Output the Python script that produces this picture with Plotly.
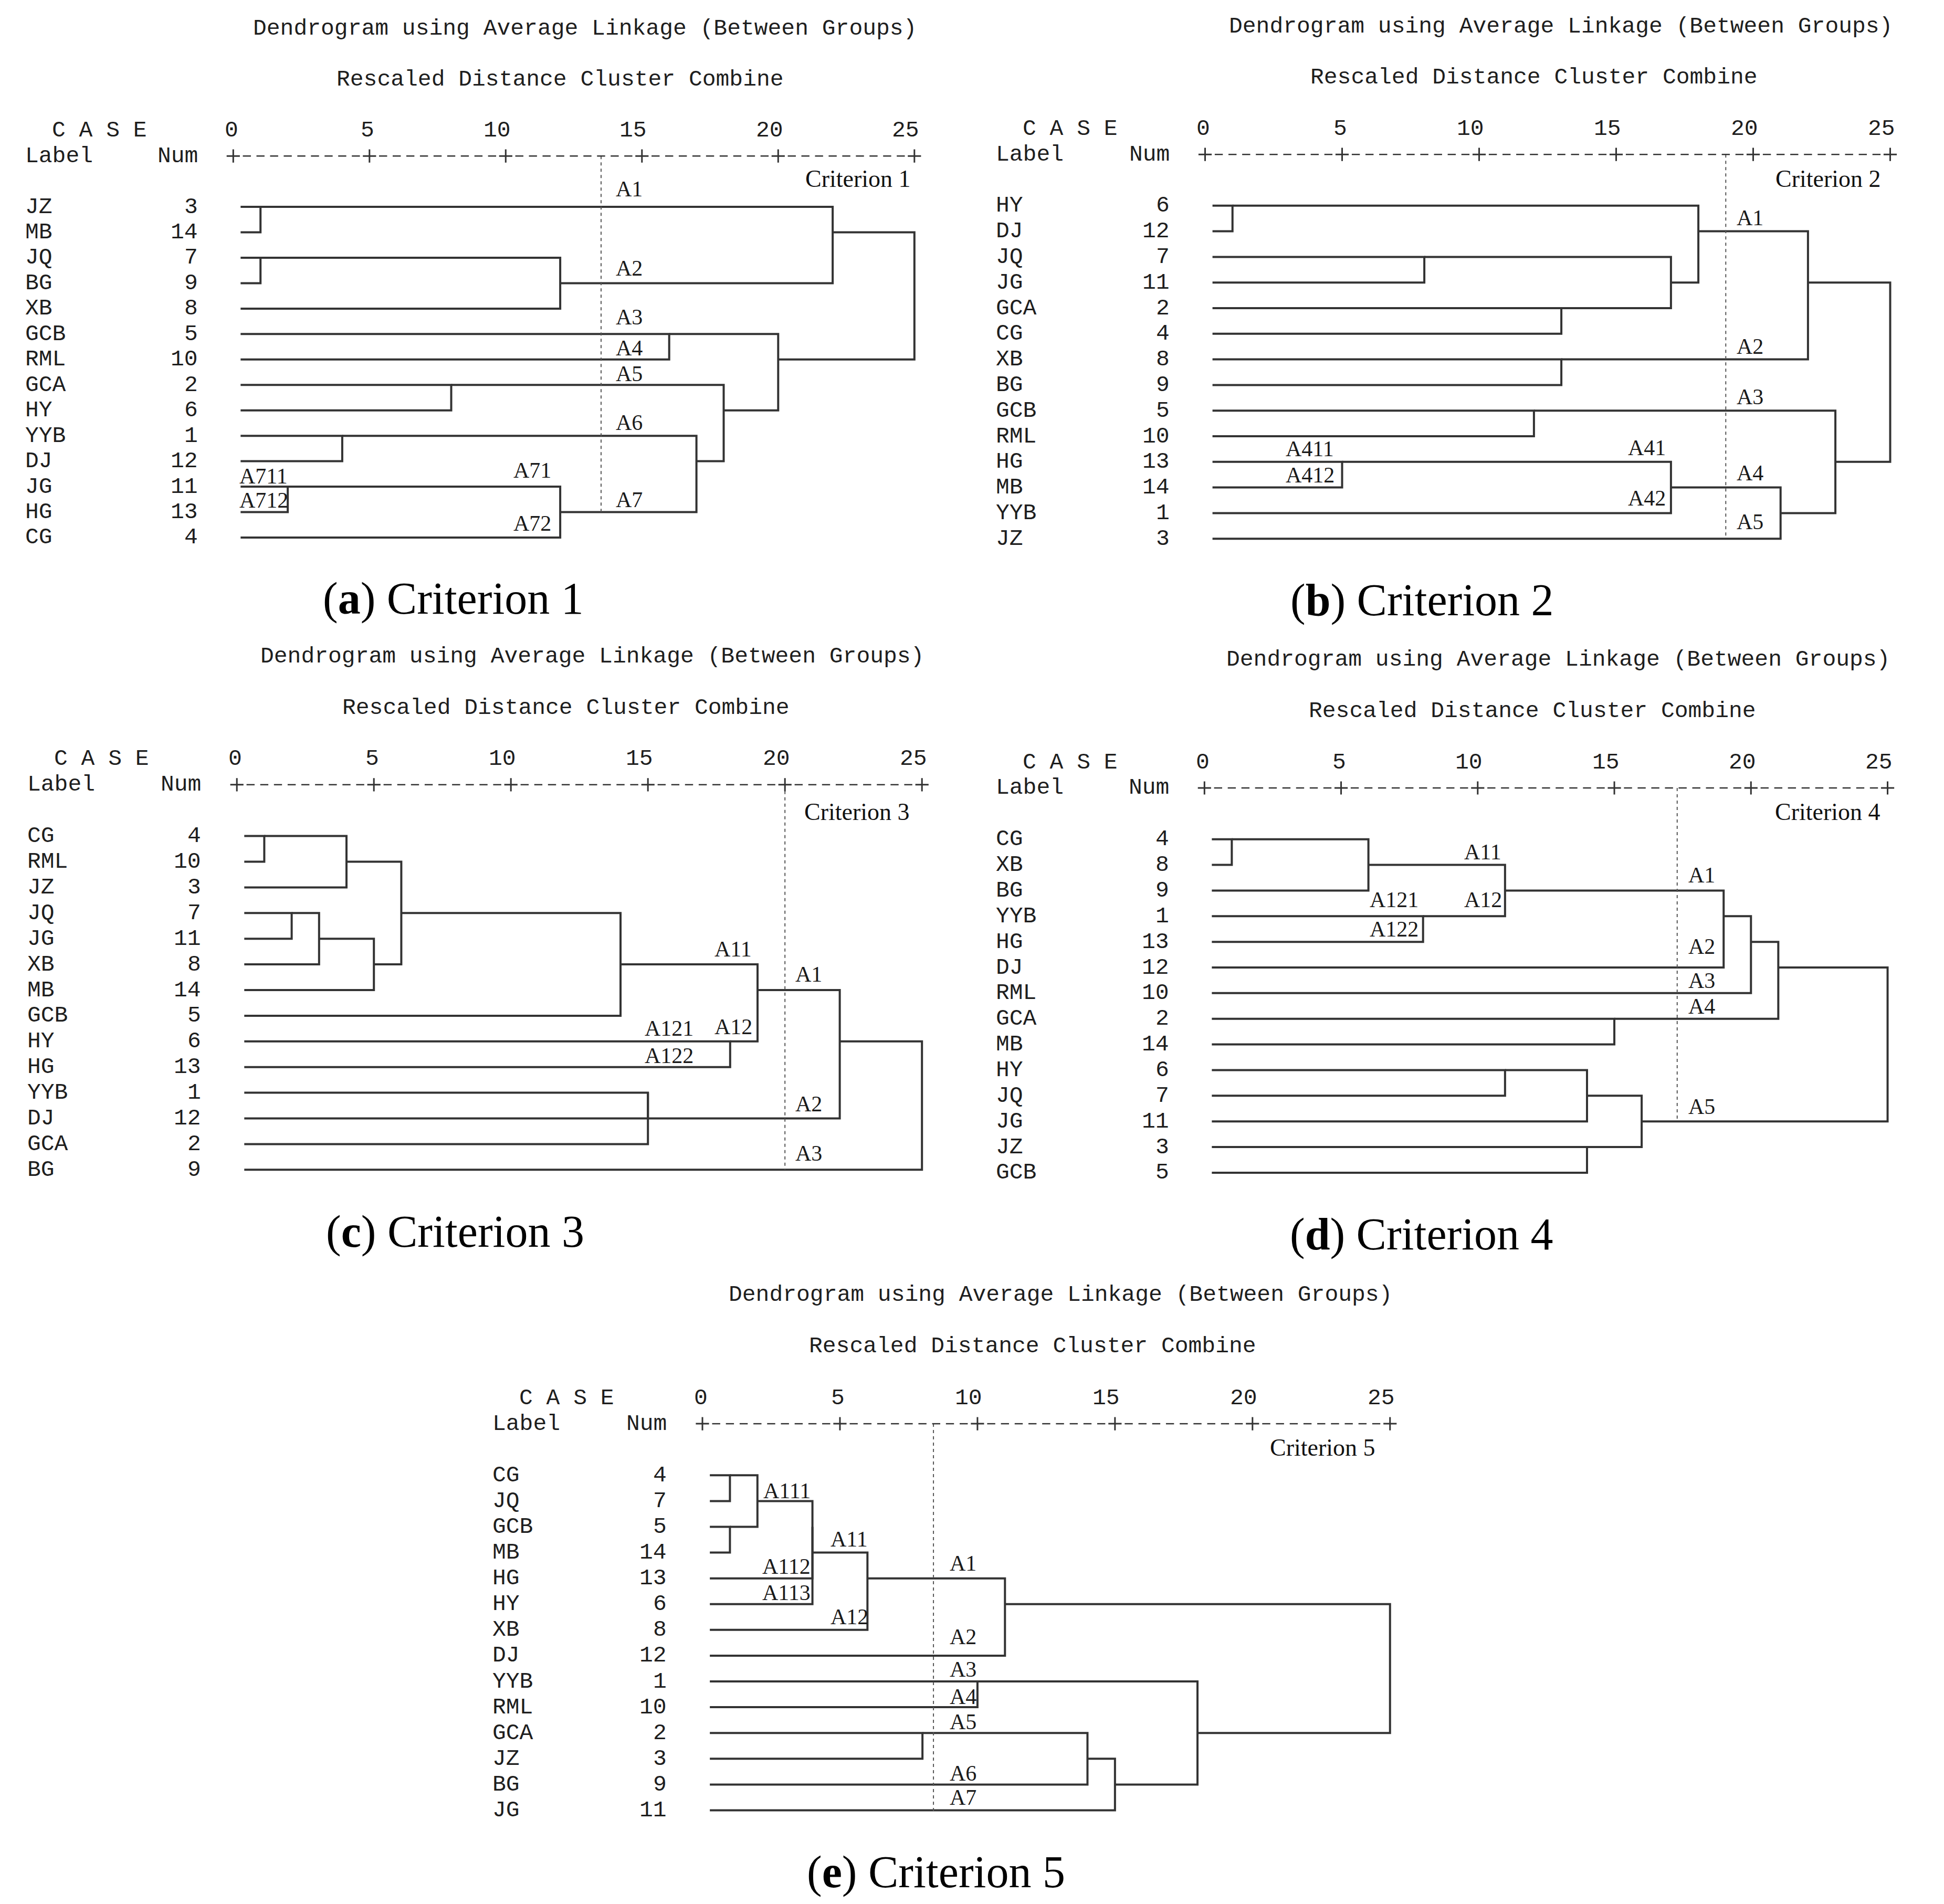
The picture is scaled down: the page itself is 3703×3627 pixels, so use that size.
import numpy as np
import plotly.graph_objects as go

W, H = 3703, 3627
BODY_MARGIN = 8  # default browser body margin around the plot div

# ---------------- data ----------------
labels_a = ["JZ", "MB", "JQ", "BG", "XB", "GCB", "RML", "GCA", "HY", "YYB", "DJ", "JG", "HG", "CG"]
nums_a = [3, 14, 7, 9, 8, 5, 10, 2, 6, 1, 12, 11, 13, 4]
merges_a = [(0, 1, 1), (2, 3, 1), (15, 4, 12), (14, 16, 22), (5, 6, 16), (7, 8, 8), (9, 10, 4),
            (11, 12, 2), (21, 13, 12), (20, 22, 17), (19, 23, 18), (18, 24, 20), (17, 25, 25)]
cut_a = 13.5
marks_a = [("A1", 14.0, -0.71), ("A2", 14.0, 2.42), ("A3", 14.0, 4.34), ("A4", 14.0, 5.55),
           ("A5", 14.0, 6.56), ("A6", 14.0, 8.48), ("A7", 14.0, 11.52), ("A711", 0.18, 10.58),
           ("A712", 0.18, 11.53), ("A71", 10.24, 10.35), ("A72", 10.24, 12.45)]

labels_b = ["HY", "DJ", "JQ", "JG", "GCA", "CG", "XB", "BG", "GCB", "RML", "HG", "MB", "YYB", "JZ"]
nums_b = [6, 12, 7, 11, 2, 4, 8, 9, 5, 10, 13, 14, 1, 3]
merges_b = [(0, 1, 1), (2, 3, 8), (4, 5, 13), (15, 16, 17), (14, 17, 18), (6, 7, 13), (18, 19, 22),
            (8, 9, 12), (10, 11, 5), (22, 12, 17), (23, 13, 21), (21, 24, 23), (20, 25, 25)]
cut_b = 19.0
marks_b = [("A1", 19.36, 0.47), ("A2", 19.36, 5.49), ("A3", 19.36, 7.46), ("A4", 19.36, 10.44),
           ("A5", 19.36, 12.35), ("A411", 2.9, 9.5), ("A412", 2.9, 10.52), ("A41", 15.4, 9.45),
           ("A42", 15.4, 11.41)]

labels_c = ["CG", "RML", "JZ", "JQ", "JG", "XB", "MB", "GCB", "HY", "HG", "YYB", "DJ", "GCA", "BG"]
nums_c = [4, 10, 3, 7, 11, 8, 14, 5, 6, 13, 1, 12, 2, 9]
merges_c = [(0, 1, 1), (14, 2, 4), (3, 4, 2), (16, 5, 3), (17, 6, 5), (15, 18, 6), (19, 7, 14),
            (8, 9, 18), (20, 21, 19), (10, 11, 15), (23, 12, 15), (22, 24, 22), (25, 13, 25)]
cut_c = 20.0
marks_c = [("A11", 17.4, 4.41), ("A1", 20.34, 5.38), ("A121", 14.84, 7.5), ("A12", 17.4, 7.43),
           ("A122", 14.84, 8.56), ("A2", 20.34, 10.44), ("A3", 20.34, 12.35)]

labels_d = ["CG", "XB", "BG", "YYB", "HG", "DJ", "RML", "GCA", "MB", "HY", "JQ", "JG", "JZ", "GCB"]
nums_d = [4, 8, 9, 1, 13, 12, 10, 2, 14, 6, 7, 11, 3, 5]
merges_d = [(0, 1, 1), (14, 2, 6), (3, 4, 8), (15, 16, 11), (17, 5, 19), (18, 6, 20), (7, 8, 15),
            (19, 20, 21), (9, 10, 11), (22, 11, 14), (12, 13, 14), (23, 24, 16), (21, 25, 25)]
cut_d = 17.3
marks_d = [("A11", 9.46, 0.5), ("A1", 17.66, 1.39), ("A121", 6.0, 2.36), ("A12", 9.46, 2.36),
           ("A122", 6.0, 3.51), ("A2", 17.66, 4.18), ("A3", 17.66, 5.51), ("A4", 17.66, 6.52),
           ("A5", 17.66, 10.42)]

labels_e = ["CG", "JQ", "GCB", "MB", "HG", "HY", "XB", "DJ", "YYB", "RML", "GCA", "JZ", "BG", "JG"]
nums_e = [4, 7, 5, 14, 13, 6, 8, 12, 1, 10, 2, 3, 9, 11]
merges_e = [(0, 1, 1), (2, 3, 1), (14, 15, 2), (16, 4, 4), (17, 5, 4), (18, 6, 6), (19, 7, 11),
            (8, 9, 10), (10, 11, 8), (22, 12, 14), (23, 13, 15), (21, 24, 18), (20, 25, 25)]
cut_e = 8.4
marks_e = [("A111", 2.17, 0.6), ("A11", 4.62, 2.48), ("A112", 2.13, 3.54), ("A113", 2.13, 4.55),
           ("A12", 4.62, 5.5), ("A1", 8.96, 3.42), ("A2", 8.96, 6.27), ("A3", 8.96, 7.54),
           ("A4", 8.96, 8.59), ("A5", 8.96, 9.57), ("A6", 8.96, 11.57), ("A7", 8.96, 12.51)]

tick_vals = [0, 5, 10, 15, 20, 25]
title_txt = "Dendrogram using Average Linkage (Between Groups)"
subtitle_txt = "Rescaled Distance Cluster Combine"

# origin = page pixel of (distance 0, first row); scale = px per distance unit, px per row
panels = [
    dict(letter="a", crit="Criterion 1", labels=labels_a, nums=nums_a, merges=merges_a, cut=cut_a,
         cut_end=12.0, marks=marks_a, origin=(444.3, 394.1), scale=(51.9, 48.45),
         crit_xy=(24.9, -1.1), cap_x=8.08),
    dict(letter="b", crit="Criterion 2", labels=labels_b, nums=nums_b, merges=merges_b, cut=cut_b,
         cut_end=12.9, marks=marks_b, origin=(2295.5, 391.8), scale=(52.2, 48.8),
         crit_xy=(24.7, -1.05), cap_x=7.92),
    dict(letter="c", crit="Criterion 3", labels=labels_c, nums=nums_c, merges=merges_c, cut=cut_c,
         cut_end=13.0, marks=marks_c, origin=(451.2, 1592.6), scale=(52.2, 48.9),
         crit_xy=(24.6, -0.95), cap_x=7.96),
    dict(letter="d", crit="Criterion 4", labels=labels_d, nums=nums_d, merges=merges_d, cut=cut_d,
         cut_end=10.95, marks=marks_d, origin=(2294.3, 1598.7), scale=(52.05, 48.86),
         crit_xy=(24.77, -1.06), cap_x=7.95),
    dict(letter="e", crit="Criterion 5", labels=labels_e, nums=nums_e, merges=merges_e, cut=cut_e,
         cut_end=13.1, marks=marks_e, origin=(1338.0, 2810.3), scale=(52.39, 49.09),
         crit_xy=(24.5, -1.08), cap_x=8.5),
]

# ---------------- styling / layout constants ----------------
XR = (-8.4, 25.8)
YR = (-7.8, 16.3)
LEAF_START = 0.27
MONO = dict(family="Liberation Mono", size=43, color="#1e1e1e")
SERIF_MARK = dict(family="Liberation Serif", size=42, color="#1a1a1a")
SERIF_CRIT = dict(family="Liberation Serif", size=46, color="#111111")
SERIF_CAP = dict(family="Liberation Serif", size=86, color="#000000")
LINE_COLOR = "#333333"

FW, FH = W - 2 * BODY_MARGIN, H - 2 * BODY_MARGIN


def dendro_paths(n, merges, start):
    pos = {i: (float(i), start) for i in range(n)}
    xs, ys = [], []
    for k, (a, b, h) in enumerate(merges):
        ra, xa = pos[a]
        rb, xb = pos[b]
        xs += [xa, h, h, xb, None]
        ys += [ra, ra, rb, rb, None]
        pos[n + k] = (float(np.floor((ra + rb) / 2.0)), h)
    return xs, ys


fig = go.Figure()
annotations = []
layout_axes = {}

for i, p in enumerate(panels, start=1):
    sfx = "" if i == 1 else str(i)
    xref, yref = "x" + sfx, "y" + sfx
    ox, oy = p["origin"]
    ox -= BODY_MARGIN
    oy -= BODY_MARGIN
    pu, pr = p["scale"]
    left = ox + XR[0] * pu
    right = ox + XR[1] * pu
    top = oy + YR[0] * pr
    bottom = oy + YR[1] * pr
    layout_axes["xaxis" + sfx] = dict(domain=[max(left, 0) / FW, min(right, FW) / FW],
                                      range=[max(left, 0) / pu - ox / pu, min(right, FW) / pu - ox / pu],
                                      visible=False, anchor=yref, fixedrange=True)
    layout_axes["yaxis" + sfx] = dict(domain=[1 - bottom / FH, 1 - top / FH], range=[YR[1], YR[0]],
                                      visible=False, anchor=xref, fixedrange=True)

    n = len(p["labels"])
    xs, ys = dendro_paths(n, p["merges"], LEAF_START)
    fig.add_trace(go.Scatter(x=xs, y=ys, mode="lines", xaxis=xref, yaxis=yref,
                             line=dict(color=LINE_COLOR, width=4), hoverinfo="skip",
                             showlegend=False, cliponaxis=False))
    fig.add_trace(go.Scatter(x=[p["cut"], p["cut"]], y=[-2, p["cut_end"]], mode="lines",
                             xaxis=xref, yaxis=yref,
                             line=dict(color="#555555", width=2, dash="6px,6px"),
                             hoverinfo="skip", showlegend=False))
    half = np.arange(0, 25.01, 0.5)
    dash_x = [v for v in half if v % 5 != 0]
    fig.add_trace(go.Scatter(x=dash_x, y=[-2] * len(dash_x), mode="markers", xaxis=xref, yaxis=yref,
                             marker=dict(symbol="line-ew", size=11,
                                         line=dict(color="#333333", width=2.5)),
                             hoverinfo="skip", showlegend=False, cliponaxis=False))
    fig.add_trace(go.Scatter(x=tick_vals, y=[-2] * len(tick_vals), mode="markers",
                             xaxis=xref, yaxis=yref,
                             marker=dict(symbol="cross-thin", size=18,
                                         line=dict(color="#333333", width=3)),
                             hoverinfo="skip", showlegend=False, cliponaxis=False))

    def ann(text, x, y, xanchor, font):
        annotations.append(dict(text=text, x=x, y=y, xref=xref, yref=yref, xanchor=xanchor,
                                yanchor="middle", showarrow=False, font=font))

    ann(title_txt, 25.12, -7, "right", MONO)
    ann(subtitle_txt, 12.0, -5, "center", MONO)
    ann("C A S E", -6.7, -3, "left", MONO)
    ann("Label", -7.68, -2, "left", MONO)
    ann("Num", -1.26, -2, "right", MONO)
    for t in tick_vals:
        ann(str(t), t + 0.22, -3, "right", MONO)
    for r, (lab, num) in enumerate(zip(p["labels"], p["nums"])):
        ann(lab, -7.68, r, "left", MONO)
        ann(str(num), -1.26, r, "right", MONO)
    for txt, mx, my in p["marks"]:
        ann(txt, mx, my, "left", SERIF_MARK)
    cx, cy = p["crit_xy"]
    ann(p["crit"], cx, cy, "right", SERIF_CRIT)
    ann("(<b>%s</b>) %s" % (p["letter"], p["crit"]), p["cap_x"], 15.4, "center", SERIF_CAP)

fig.update_layout(width=FW, height=FH, margin=dict(l=0, r=0, t=0, b=0),
                  paper_bgcolor="white", plot_bgcolor="white", showlegend=False,
                  annotations=annotations, **layout_axes)

fig.write_html("out.html")
